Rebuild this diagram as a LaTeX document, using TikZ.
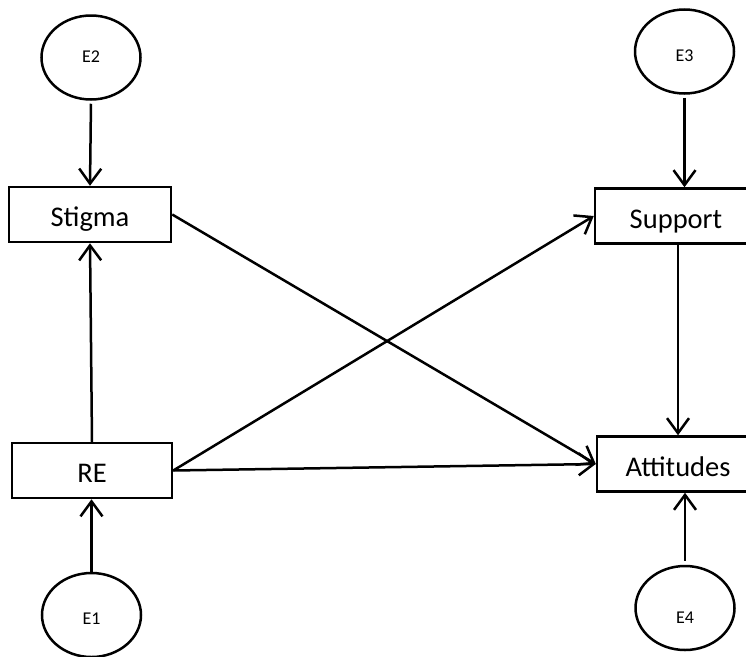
\documentclass[tikz,border=0pt]{standalone}
\usepackage{fontspec}
\setmainfont{Carlito}
\usetikzlibrary{arrows.meta,shapes.geometric}
\begin{document}
\begin{tikzpicture}[x=1pt,y=-1pt,
  var/.style={draw,line width=2.5pt,minimum width=162pt,minimum height=55pt,inner sep=0pt,text height=24pt,text depth=0pt,font=\fontsize{28.5}{30}\selectfont},
  err/.style={draw,ellipse,line width=2.5pt,minimum width=99pt,minimum height=84pt,inner sep=0pt,text depth=0pt,font=\fontsize{18}{20}\selectfont},
  arr/.style={line width=2.5pt,-{Straight Barb[length=15pt,width=22pt,line width=2.5pt]}}]
\useasboundingbox (0,0) rectangle (746,656);
\clip (0,0) rectangle (746,656);
\node[var] (stigma) at (90,214.5) {Stigma};
\node[var] (support) at (676,216) {Support};
\node[var,minimum width=160pt] (re) at (92,470.5) {RE};
\node[var] (att) at (678,464) {Attitudes};
\node[err,text height=9pt] (e2) at (91,57.5) {E2};
\node[err,text height=20.5pt] (e3) at (684.5,51.5) {E3};
\node[err,text height=18.5pt] (e1) at (91.5,615) {E1};
\node[err,text height=30pt] (e4) at (685,608) {E4};
\draw[arr,shorten <=3pt] (e2.south) -- (stigma.north);
\draw[arr,shorten <=3pt] (e3.south) -- (e3.south |- support.north);
\draw[arr] (e1.north) -- (e1.north |- re.south);
\draw[arr,shorten <=4pt] (e4.north) -- (e4.north |- att.south);
\draw[arr] (re.north) -- (stigma.south);
\draw[arr] (support.south -| att.north) -- (att.north);
\draw[arr] (stigma.east) -- (att.west);
\draw[arr] (re.east) -- (support.west);
\draw[arr] (re.east) -- (att.west);
\end{tikzpicture}
\end{document}
